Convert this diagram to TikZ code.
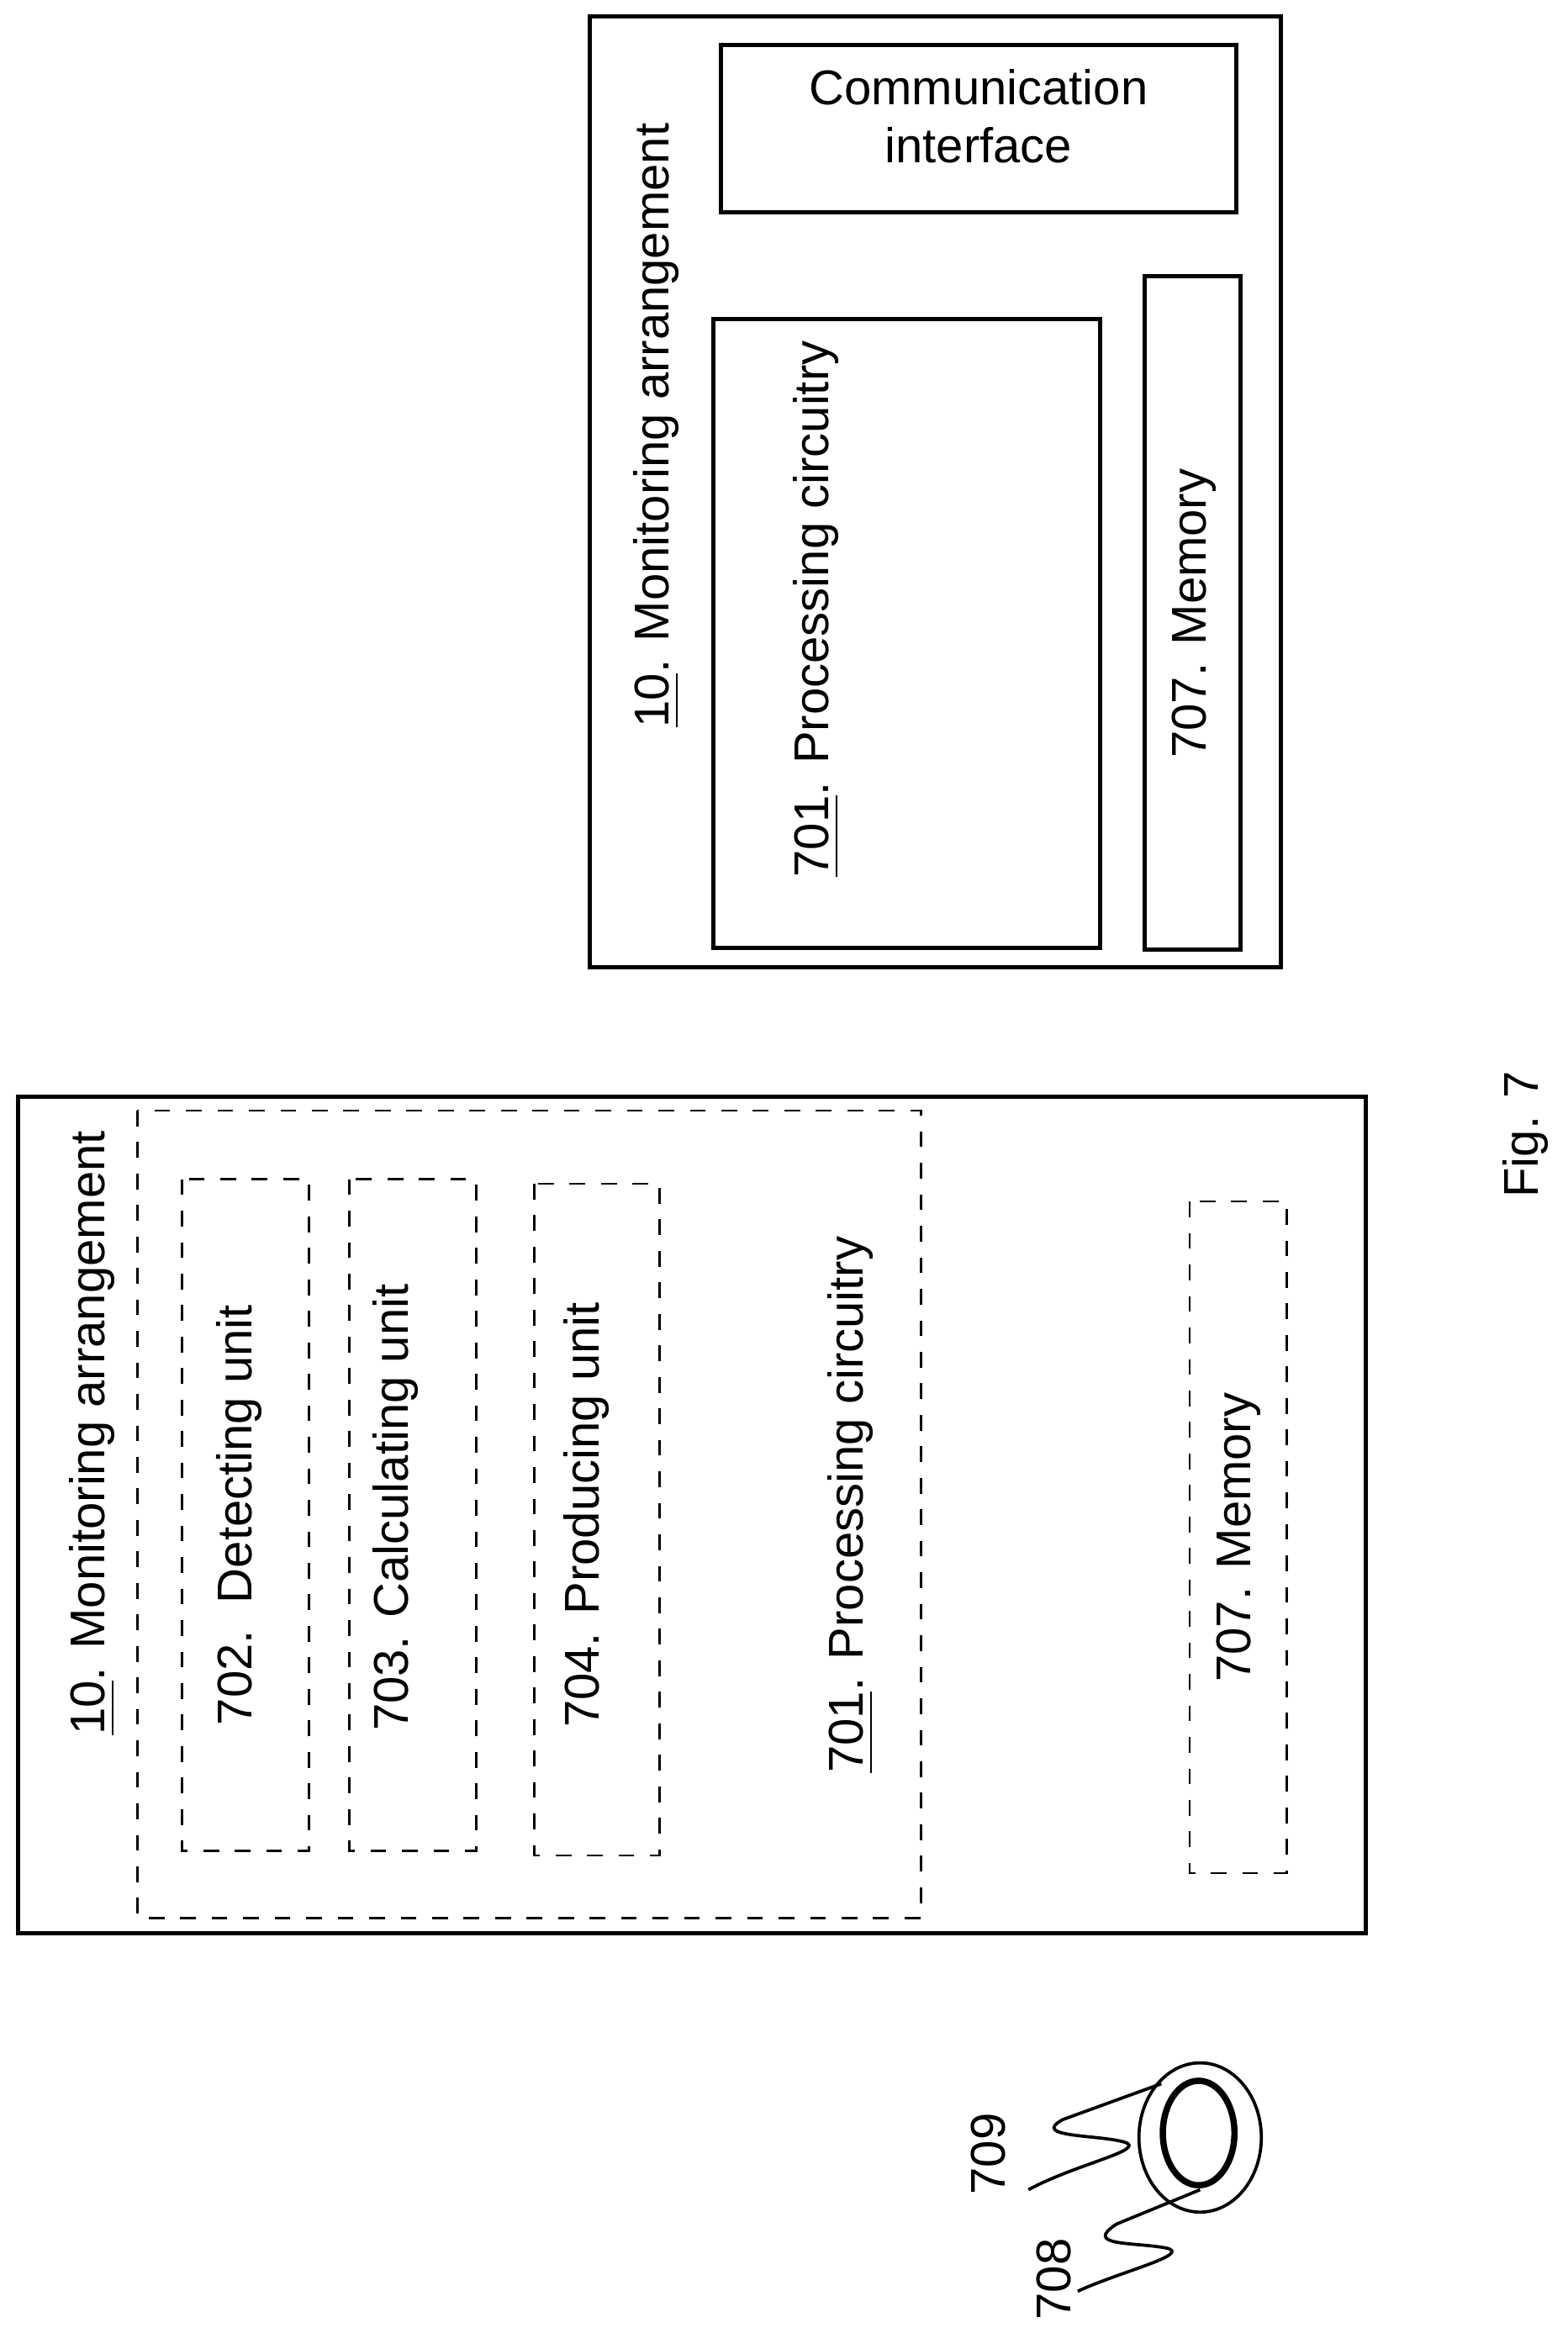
\documentclass[tikz,border=0pt]{standalone}
\usepackage{fontspec}
\setmainfont{Liberation Sans}
\usetikzlibrary{positioning}

\begin{document}
\begin{tikzpicture}[x=0.01cm,y=-0.01cm,font=\fontsize{9.3}{11}\selectfont]
	\tikzstyle{box} = [draw, thick, rectangle, inner sep=0]
	\tikzstyle{dbox} = [draw, dashed, rectangle, inner sep=0]
	\tikzstyle{vtext} = [rotate=90, inner sep=0]
	\tikzstyle{lead} = [draw, semithick]
	\useasboundingbox (0,0) rectangle (1050,1563);
	% right arrangement
	\draw[box] (395,11) rectangle (858,648);
	\draw[box] (483,30) rectangle (828,142);
	\node[align=center] (comm) at (655.5,78) {Communication\\interface};
	\node[vtext] (mon1) at (440,285) {\underline{10}. Monitoring arrangement};
	\draw[box] (478,214) rectangle (737,635);
	\node[vtext] (proc1) at (547,408) {\underline{701}. Processing circuitry};
	\draw[box] (767,185) rectangle (831,636);
	\node[vtext] (mem1) at (800,411) {707. Memory};
	% left arrangement
	\draw[box] (12,735) rectangle (915,1295);
	\draw[dbox] (92,744) rectangle (617,1285);
	\node[vtext] (mon2) at (62,960) {\underline{10}. Monitoring arrangement};
	\draw[dbox] (122,790) rectangle (207,1240);
	\node[vtext] (det) at (160,1015) {702.\ \ Detecting unit};
	\draw[dbox] (234,790) rectangle (319,1240);
	\node[vtext] (calc) at (265,1010) {703. Calculating unit};
	\draw[dbox] (358,793) rectangle (442,1243);
	\node[vtext] (prod) at (393,1015) {704. Producing unit};
	\node[vtext] (proc2) at (570,1008) {\underline{701}. Processing circuitry};
	\draw[dbox] (797,805) rectangle (862,1255);
	\node[vtext] (mem2) at (830,1030) {707. Memory};
	\node[vtext] (fig) at (1022,760) {Fig. 7};
	% disc
	\draw[semithick] (804,1432) ellipse [x radius=41, y radius=50];
	\draw[very thick] (803,1429) ellipse [x radius=24, y radius=35];
	\node[vtext] (l709) at (662,1443) {709};
	\node[vtext] (l708) at (706,1527) {708};
	\coordinate (t709) at (778,1396);
	\coordinate (t708) at (804,1467);
	\draw[lead] (689,1467) .. controls (720,1450) and (770,1440) .. (753,1435) .. controls (735,1430) and (690,1432) .. (712,1420) -- (t709);
	\draw[lead] (722,1535) .. controls (750,1522) and (800,1510) .. (781,1506) .. controls (760,1502) and (725,1505) .. (748,1490) -- (t708);
\end{tikzpicture}
\end{document}
